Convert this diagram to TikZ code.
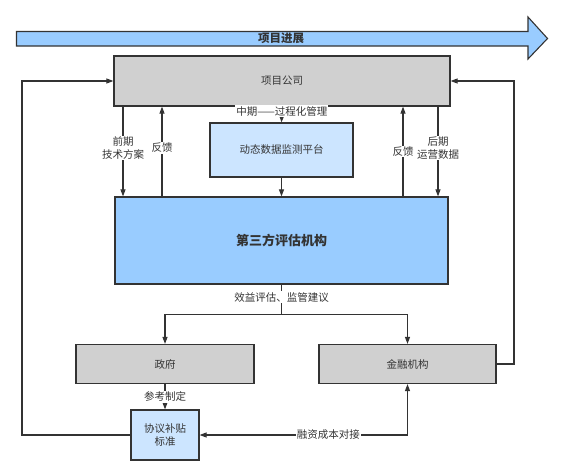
\documentclass[tikz,border=0pt]{standalone}
\usepackage{fontspec}
\newfontfamily\cjk{Noto Sans CJK SC}
\usetikzlibrary{arrows.meta}
\definecolor{boxgray}{HTML}{D0D0D0}
\definecolor{lightblue}{HTML}{CCE5FF}
\definecolor{midblue}{HTML}{99CCFF}
\definecolor{ink}{HTML}{333333}
\begin{document}
\begin{tikzpicture}[x=1pt,y=-1pt,font=\cjk\fontsize{10.5}{13}\selectfont,text=ink]
    \tikzstyle{box}=[draw=ink, line width=1.2pt, inner sep=2pt, align=center]
    \tikzstyle{gray}=[fill=boxgray]
    \tikzstyle{pale}=[fill=lightblue]
    \tikzstyle{blue}=[fill=midblue]
    \tikzstyle{arr}=[draw=ink, line width=1.1pt, -{Triangle[length=7pt,width=5pt]}]
    \tikzstyle{lab}=[fill=white, inner sep=1pt, align=center]

    \useasboundingbox (0,0) rectangle (563,463);

    % timeline
    \draw[ink, line width=1.1pt, fill=midblue] (16.5,31.5) -- (528,31.5) -- (528,17) -- (547.5,38.5)
        -- (528,59) -- (528,46) -- (16.5,46) -- cycle;
    \node[font=\cjk\bfseries\fontsize{11.5}{13}\selectfont] (prog) at (281,38.5) {项目进展};

    \node[box, gray, minimum width=336pt, minimum height=50pt] (company) at (282,81) {项目公司};
    \node[box, pale, minimum width=143pt, minimum height=54pt] (monitor) at (281.5,150) {动态数据监测平台};
    \node[box, blue, minimum width=333pt, minimum height=87pt,
          font=\cjk\bfseries\fontsize{13}{15}\selectfont] (third) at (281.5,240.5) {第三方评估机构};
    \node[box, gray, minimum width=178pt, minimum height=39pt] (gov) at (165,364) {政府};
    \node[box, gray, minimum width=177pt, minimum height=39pt] (fin) at (407.5,364) {金融机构};
    \node[box, pale, minimum width=68pt, minimum height=50pt] (std) at (165,435) {协议补贴\\标准};

    \coordinate (x1) at (123,0);
    \coordinate (x2) at (162,0);
    \coordinate (x3) at (403,0);
    \coordinate (x4) at (438,0);
    \coordinate (lx) at (22,0);
    \coordinate (rx) at (514,0);
    \coordinate (split) at (281.5,314.5);

    \draw[arr] (company.south -| x1) -- node[lab, pos=0.46] {前期\\技术方案} (third.north -| x1);
    \draw[arr] (third.north -| x2) -- node[lab, pos=0.54] {反馈} (company.south -| x2);
    \draw[arr] (third.north -| x3) -- node[lab, pos=0.5] {反馈} (company.south -| x3);
    \draw[arr] (company.south -| x4) -- node[lab, pos=0.46] {后期\\运营数据} (third.north -| x4);

    \draw[arr] (company.south) -- node[lab, pos=0.28] {中期——过程化管理} (monitor.north);
    \draw[arr] (monitor.south) -- (third.north);

    \draw[draw=ink, line width=1.1pt] (third.south) -- node[lab, pos=0.42] {效益评估、监管建议} (split);
    \draw[arr] (split) -| (gov.north);
    \draw[arr] (split) -| (fin.north);

    \draw[arr] (gov.south) -- node[lab] {参考制定} (std.north);
    \draw[arr, {Triangle[length=7pt,width=5pt]}-{Triangle[length=7pt,width=5pt]}]
        (std.east) -| node[lab, pos=0.31] {融资成本对接} (fin.south);

    \draw[arr] (std.west) -- (std.west -| lx) |- (company.west);
    \draw[arr] (fin.east) -- (fin.east -| rx) |- (company.east);
  \end{tikzpicture}
\end{document}
